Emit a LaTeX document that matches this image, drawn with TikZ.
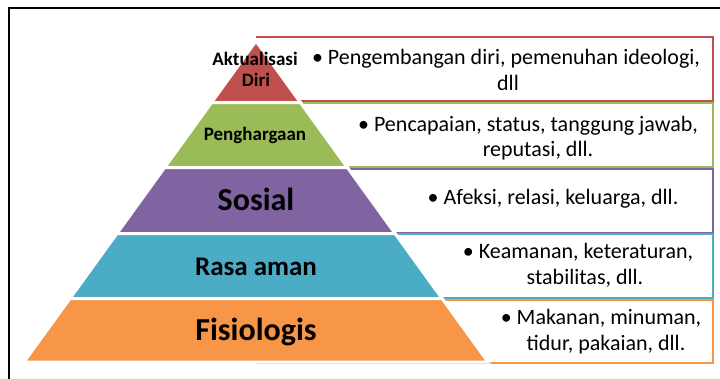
\documentclass[tikz,border=0pt]{standalone}
\usepackage{fontspec}
\setmainfont{Carlito}
\definecolor{cred}{HTML}{C0504D}
\definecolor{cgreen}{HTML}{9BBB59}
\definecolor{cpurple}{HTML}{8064A2}
\definecolor{cblue}{HTML}{4BACC6}
\definecolor{corange}{HTML}{F79646}
\tikzset{
  layer/.style={fill=#1, draw=white, line width=3pt, line join=miter},
  infobox/.style={draw=#1, line width=2pt},
  desc/.style={anchor=base, inner sep=0pt, font=\fontsize{22}{26}\selectfont, text=black},
  lbl/.style={anchor=base, inner sep=0pt, font=\bfseries\fontsize{#1}{#1}\selectfont, text=black},
  frameline/.style={draw=black, line width=1.5pt}
}
\begin{document}
\begin{tikzpicture}[x=1pt,y=-1pt]
\useasboundingbox (0,0) rectangle (720,378);
\fill[white] (0,0) rectangle (720,378);
% frame
\draw[frameline] (9,379) -- (9,8) -- (721,8);
% info boxes (left side hidden behind the pyramid)
\draw[infobox=cred] (256,37) -- (713,37) -- (713,101) -- (256,101);
\draw[infobox=cgreen] (256,102.5) -- (713,102.5) -- (713,167) -- (256,167);
\draw[infobox=cpurple] (256,168.5) -- (713,168.5) -- (713,232.5) -- (256,232.5);
\draw[infobox=cblue] (256,234) -- (713,234) -- (713,298) -- (256,298);
\draw[infobox=corange] (256,299.5) -- (713,299.5) -- (713,363) -- (256,363);
% pyramid layers
\filldraw[layer=cred] (256,41) -- (300.4,102.5) -- (211.6,102.5) -- cycle;
\filldraw[layer=cgreen] (211.6,102.5) -- (300.4,102.5) -- (347.4,167.5) -- (164.6,167.5) -- cycle;
\filldraw[layer=cpurple] (164.6,167.5) -- (347.4,167.5) -- (395.1,233.5) -- (116.9,233.5) -- cycle;
\filldraw[layer=cblue] (116.9,233.5) -- (395.1,233.5) -- (442.1,298.5) -- (69.9,298.5) -- cycle;
\filldraw[layer=corange] (69.9,298.5) -- (442.1,298.5) -- (488,362) -- (24,362) -- cycle;
% layer labels
\node[lbl=19] (l1a) at (255,65) {Aktualisasi};
\node[lbl=19] (l1b) at (256,86) {Diri};
\node[lbl=19] (l2) at (255,140) {Penghargaan};
\node[lbl=32] (l3) at (256,210) {Sosial};
\node[lbl=27] (l4) at (256,275) {Rasa aman};
\node[lbl=32] (l5) at (256,340) {Fisiologis};
% descriptions
\node[desc] (d1a) at (506,64) {• Pengembangan diri, pemenuhan ideologi,};
\node[desc] (d1b) at (508,90) {dll};
\node[desc] (d2a) at (528,131) {• Pencapaian, status, tanggung jawab,};
\node[desc] (d2b) at (538,156) {reputasi, dll.};
\node[desc] (d3) at (553,204) {• Afeksi, relasi, keluarga, dll.};
\node[desc] (d4a) at (578,258) {• Keamanan, keteraturan,};
\node[desc] (d4b) at (585,284) {stabilitas, dll.};
\node[desc] (d5a) at (601,324) {• Makanan, minuman,};
\node[desc] (d5b) at (606,350) {tidur, pakaian, dll.};
\end{tikzpicture}
\end{document}
